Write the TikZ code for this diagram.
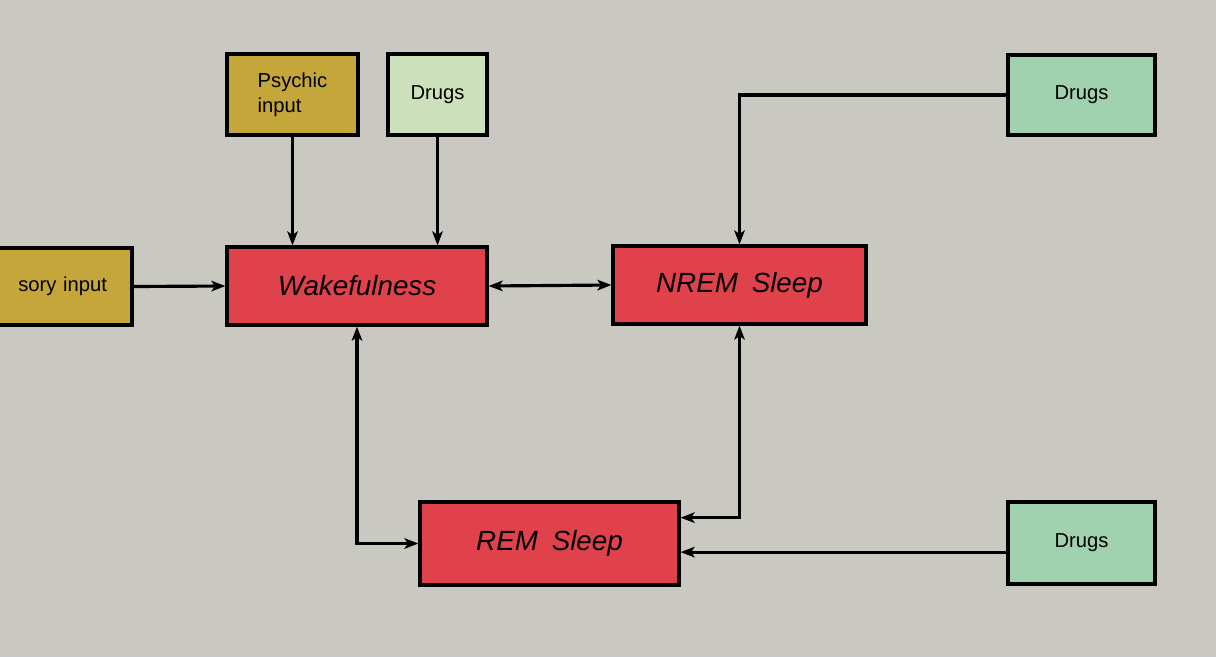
\documentclass[tikz,border=0pt]{standalone}
\usepackage{fontspec}
\setmainfont{Liberation Sans}
\usetikzlibrary{arrows.meta,calc}

\definecolor{paper}{RGB}{201,201,194}
\definecolor{mustard}{RGB}{196,166,58}
\definecolor{sleepred}{RGB}{224,66,76}
\definecolor{palegreen}{RGB}{204,224,188}
\definecolor{drugsgreen}{RGB}{160,210,176}

\begin{document}
\begin{tikzpicture}[
    x=0.02cm, y=-0.02cm,
    >={Stealth[length=8pt,width=6pt,inset=2pt]},
    conn/.style={line width=1.8pt},
    box/.style={rectangle, draw, line width=1.8pt, inner sep=0pt,
      font=\fontsize{11.5}{14}\selectfont},
    state/.style={box, fill=sleepred,
      font=\fontsize{15.8}{18}\selectfont\itshape}
  ]

  % Seite und Hintergrund
  \useasboundingbox (0,0) rectangle (1216,657);
  \clip (0,0) rectangle (1216,657);
  \fill[paper] (0,0) rectangle (1216,657);

  % Zustaende
  \node[state, minimum width=5.2cm,  minimum height=1.56cm] (wake) at (357,286)   {Wakefulness};
  \node[state, minimum width=5.06cm, minimum height=1.56cm] (nrem) at (739.5,285) {NREM\enspace Sleep\hspace{0.45cm}};
  \node[state, minimum width=5.18cm, minimum height=1.66cm] (rem)  at (549.5,543.5) {REM\enspace Sleep\hspace{0.2cm}};

  % Eingaenge
  \node[box, fill=mustard, minimum width=3.44cm, minimum height=1.54cm,
        text width=2.44cm, align=right, inner xsep=0.5cm] (sens) at (46,286.5) {sory input};
  \node[box, fill=mustard, minimum width=2.62cm, minimum height=1.62cm, align=left] (psy) at (292.5,94.5) {Psychic\\input};
  \node[box, fill=palegreen, minimum width=1.98cm, minimum height=1.62cm] (drg1) at (437.5,94.5) {Drugs};
  \node[box, fill=drugsgreen, minimum width=2.94cm, minimum height=1.6cm]  (drg2) at (1081.5,95)  {Drugs};
  \node[box, fill=drugsgreen, minimum width=2.94cm, minimum height=1.64cm] (drg3) at (1081.5,543) {Drugs};

  % Andockpunkte an REM
  \coordinate (remA) at ($(rem.north east)!0.2!(rem.south east)$);
  \coordinate (remB) at ($(rem.north east)!0.6!(rem.south east)$);

  % Pfeile zum Wachzustand
  \draw[conn, ->] (psy) -- (psy |- wake.north);
  \draw[conn, ->] (drg1) -- (drg1 |- wake.north);
  \draw[conn, ->] (sens.east) -- (wake.west);

  % Uebergaenge
  \draw[conn, <->] (wake.east) -- (nrem.west);
  \draw[conn, <->] (wake.south) |- (rem.west);
  \draw[conn, <->] (nrem.south) |- (remA);

  % Drogen rechts
  \draw[conn, ->] (drg2.west) -| (nrem.north);
  \draw[conn, ->] (drg3.west |- remB) -- (remB);

\end{tikzpicture}
\end{document}
